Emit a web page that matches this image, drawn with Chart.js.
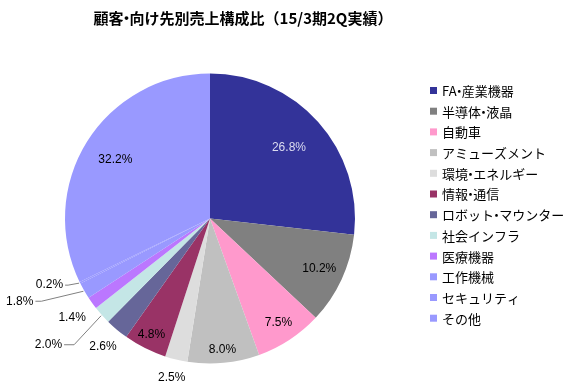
<!DOCTYPE html>
<html>
<head>
<meta charset="utf-8">
<script src="https://cdn.jsdelivr.net/npm/chart.js@4.4.1/dist/chart.umd.min.js"></script>
<style>
  html, body { margin: 0; background: #fff; }
</style>
</head>
<body>
<canvas id="chart" width="569" height="390"></canvas>
<script>
const chartTitle = '顧客・向け先別売上構成比（15/3期2Q実績）';
const categories = ['FA・産業機器', '半導体・液晶', '自動車', 'アミューズメント', '環境・エネルギー', '情報・通信',
  'ロボット・マウンター', '社会インフラ', '医療機器', '工作機械', 'セキュリティ', 'その他'];
const shares = [26.8, 10.2, 7.5, 8.0, 2.5, 4.8, 2.6, 2.0, 1.4, 1.8, 0.2, 32.2];
const colors = ['#333399', '#808080', '#ff99cc', '#c0c0c0', '#dddddd', '#993366',
  '#666699', '#c4e6e6', '#bb77ff', '#9999ff', '#9999ff', '#9999ff'];

// where each percentage goes (fraction of radius), null = uses a leader line
const labelRadius = [0.73, 0.83, 0.86, 0.91, 1.13, 0.9, 1.15, null, 1.17, null, null, 0.77];
// leader lines: [elbow dx, elbow dy, horizontal tail]
const leaders = { 7: [-27, 29, 10], 9: [-42, 10, 6], 10: [-11, 2, 3] };

// draw text with a narrow middle dot, like a proportional gothic font
function textWidth(ctx, text) {
  const dot = ctx.measureText('・').width;
  return text.split('・').reduce((w, part, k) => w + ctx.measureText(part).width + (k > 0 ? dot * 0.4 : 0), 0);
}
function drawText(ctx, text, x, y) {
  const dot = ctx.measureText('・').width;
  let cx = x;
  text.split('・').forEach((part, k) => {
    if (k > 0) {
      ctx.fillText('・', cx - dot * 0.3, y);
      cx += dot * 0.4;
    }
    ctx.fillText(part, cx, y);
    cx += ctx.measureText(part).width;
  });
}

const labelPlugin = {
  id: 'pieLabels',
  afterDatasetsDraw(chart) {
    const ctx = chart.ctx;
    const arcs = chart.getDatasetMeta(0).data;
    ctx.save();
    ctx.font = '12px "Liberation Sans", Arial, sans-serif';
    arcs.forEach((arc, i) => {
      const p = arc.getProps(['x', 'y', 'startAngle', 'endAngle', 'outerRadius'], true);
      const mid = (p.startAngle + p.endAngle) / 2;
      const text = shares[i].toFixed(1) + '%';
      ctx.fillStyle = i === 0 ? '#dcdcf0' : '#000';
      if (labelRadius[i] !== null) {
        const r = p.outerRadius * labelRadius[i];
        ctx.textAlign = 'center';
        ctx.textBaseline = 'middle';
        ctx.fillText(text, p.x + r * Math.cos(mid), p.y + r * Math.sin(mid));
      } else {
        const l = leaders[i];
        const sx = p.x + (p.outerRadius + 1) * Math.cos(mid);
        const sy = p.y + (p.outerRadius + 1) * Math.sin(mid);
        const ex = sx + l[0], ey = sy + l[1];
        ctx.strokeStyle = '#808080';
        ctx.lineWidth = 1;
        ctx.beginPath();
        ctx.moveTo(sx, sy);
        ctx.lineTo(ex, ey);
        ctx.lineTo(ex - l[2], ey);
        ctx.stroke();
        ctx.textAlign = 'right';
        ctx.textBaseline = 'middle';
        ctx.fillText(text, ex - l[2] - 2, ey);
      }
    });
    ctx.restore();
  },
  afterDraw(chart) {
    const ctx = chart.ctx;
    ctx.save();
    // title
    ctx.fillStyle = '#000';
    ctx.font = 'bold 15px "Noto Sans CJK JP", sans-serif';
    ctx.textAlign = 'left';
    ctx.textBaseline = 'middle';
    drawText(ctx, chartTitle, 243 - textWidth(ctx, chartTitle) / 2, 18);
    // legend
    ctx.font = '13px "Noto Sans CJK JP", sans-serif';
    categories.forEach((name, i) => {
      const y = 90 + i * 20.7;
      ctx.fillStyle = colors[i];
      ctx.fillRect(430, y - 3, 7, 7);
      ctx.fillStyle = '#000';
      drawText(ctx, name, 442, y + 1);
    });
    ctx.restore();
  }
};

new Chart(document.getElementById('chart'), {
  type: 'pie',
  data: {
    labels: categories,
    datasets: [{
      data: shares,
      backgroundColor: colors,
      borderWidth: 0
    }]
  },
  options: {
    responsive: false,
    animation: false,
    radius: 145,
    layout: { padding: { top: 47, right: 149, left: 0, bottom: 0 } },
    plugins: {
      legend: { display: false },
      title: { display: false },
      tooltip: { enabled: false }
    }
  },
  plugins: [labelPlugin]
});
</script>
</body>
</html>
